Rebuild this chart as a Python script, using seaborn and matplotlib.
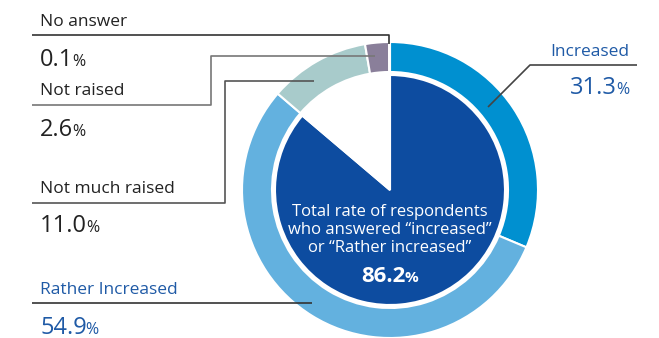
import matplotlib
matplotlib.use("Agg")
import matplotlib.pyplot as plt
import seaborn as sns

# outer ring: answers, clockwise from the top
labels = ["Increased", "Rather Increased", "Not much raised", "Not raised", "No answer"]
shares = [31.3, 54.9, 11.0, 2.6, 0.1]
ring_colors = ["#0090d0", "#63b1df", "#a8cbcb", "#8a7f9a", "#e0e0e0"]

# inner pie: increased + rather increased
total_label = "Total rate of respondents\nwho answered \u201cincreased\u201d\nor \u201cRather increased\u201d"
total_share = 86.2
inner_colors = ["#0d4ca0", "#ffffff"]

W, H = 659, 338
sns.set_theme(style="white")
plt.rcParams["font.family"] = ["Open Sans", "DejaVu Sans"]

fig = plt.figure(figsize=(W / 100, H / 100), dpi=100)
ax = fig.add_axes([0, 0, 1, 1])

def fy(y):
    return H - y

cx, cy = 390, fy(190)

ax.pie(shares, colors=ring_colors, radius=148, center=(cx, cy), startangle=90,
       counterclock=False, frame=True,
       wedgeprops=dict(width=30, edgecolor="white", linewidth=1.5))
ax.pie([total_share, 100 - total_share], colors=inner_colors, radius=115,
       center=(cx, cy), startangle=90, counterclock=False, frame=True,
       wedgeprops=dict(edgecolor="white", linewidth=1.5))

ax.set_xlim(0, W)
ax.set_ylim(0, H)
ax.set_aspect("auto")
ax.axis("off")

renderer = fig.canvas.get_renderer()
blue = "#1f5aa6"
dark = "#222222"

def value_text(x, y, val, color, ha="left", size=17, weight="normal"):
    # y is the vertical middle of the digits; draw on a common baseline
    base = fy(y + size * 0.5)
    psize = size * 0.68
    if ha == "right":
        p = ax.text(x, base, "%", fontsize=psize, color=color, va="baseline",
                    ha="right", fontweight=weight)
        bb = p.get_window_extent(renderer)
        ax.text(bb.x0 + 1, base, f"{val:.1f}", fontsize=size, color=color,
                va="baseline", ha="right", fontweight=weight)
        return
    if ha == "center":
        t = ax.text(x - 7, base, f"{val:.1f}", fontsize=size, color=color,
                    va="baseline", ha="center", fontweight=weight)
    else:
        t = ax.text(x, base, f"{val:.1f}", fontsize=size, color=color,
                    va="baseline", ha="left", fontweight=weight)
    bb = t.get_window_extent(renderer)
    ax.text(bb.x1 - 1, base, "%", fontsize=psize, color=color,
            va="baseline", ha="left", fontweight=weight)

def leader(xs, ys, color="#444444"):
    ax.plot(xs, [fy(v) for v in ys], color=color, lw=1.2, solid_capstyle="butt")

# left labels
left = [
    ("No answer", 4, 22, 57, dark),
    ("Not raised", 3, 91, 127, dark),
    ("Not much raised", 2, 189, 224, dark),
    ("Rather Increased", 1, 290, 325, blue),
]
for name, i, ly, vy, col in left:
    ax.text(40, fy(ly), name, fontsize=12.5, color=col, va="center", ha="left")
    value_text(40, vy, shares[i], col)

leader([32, 389, 389], [35, 35, 44], "#333333")
leader([32, 211, 211, 375], [105, 105, 56, 56], "#777777")
leader([32, 225, 225, 314], [203, 203, 81, 81], "#555555")
leader([32, 312], [303, 303], "#333333")

# right label
ax.text(629, fy(52), labels[0], fontsize=12.5, color=blue, va="center", ha="right")
value_text(629, 86, shares[0], blue, ha="right")
leader([637, 530, 488], [65, 65, 107], "#444444")

# center text
ax.text(cx, fy(230), total_label, fontsize=12, color="white", ha="center",
        va="center", linespacing=1.2)
value_text(cx, 274, total_share, "white", ha="center", size=16, weight="bold")

fig.savefig("out.png", dpi=100)
